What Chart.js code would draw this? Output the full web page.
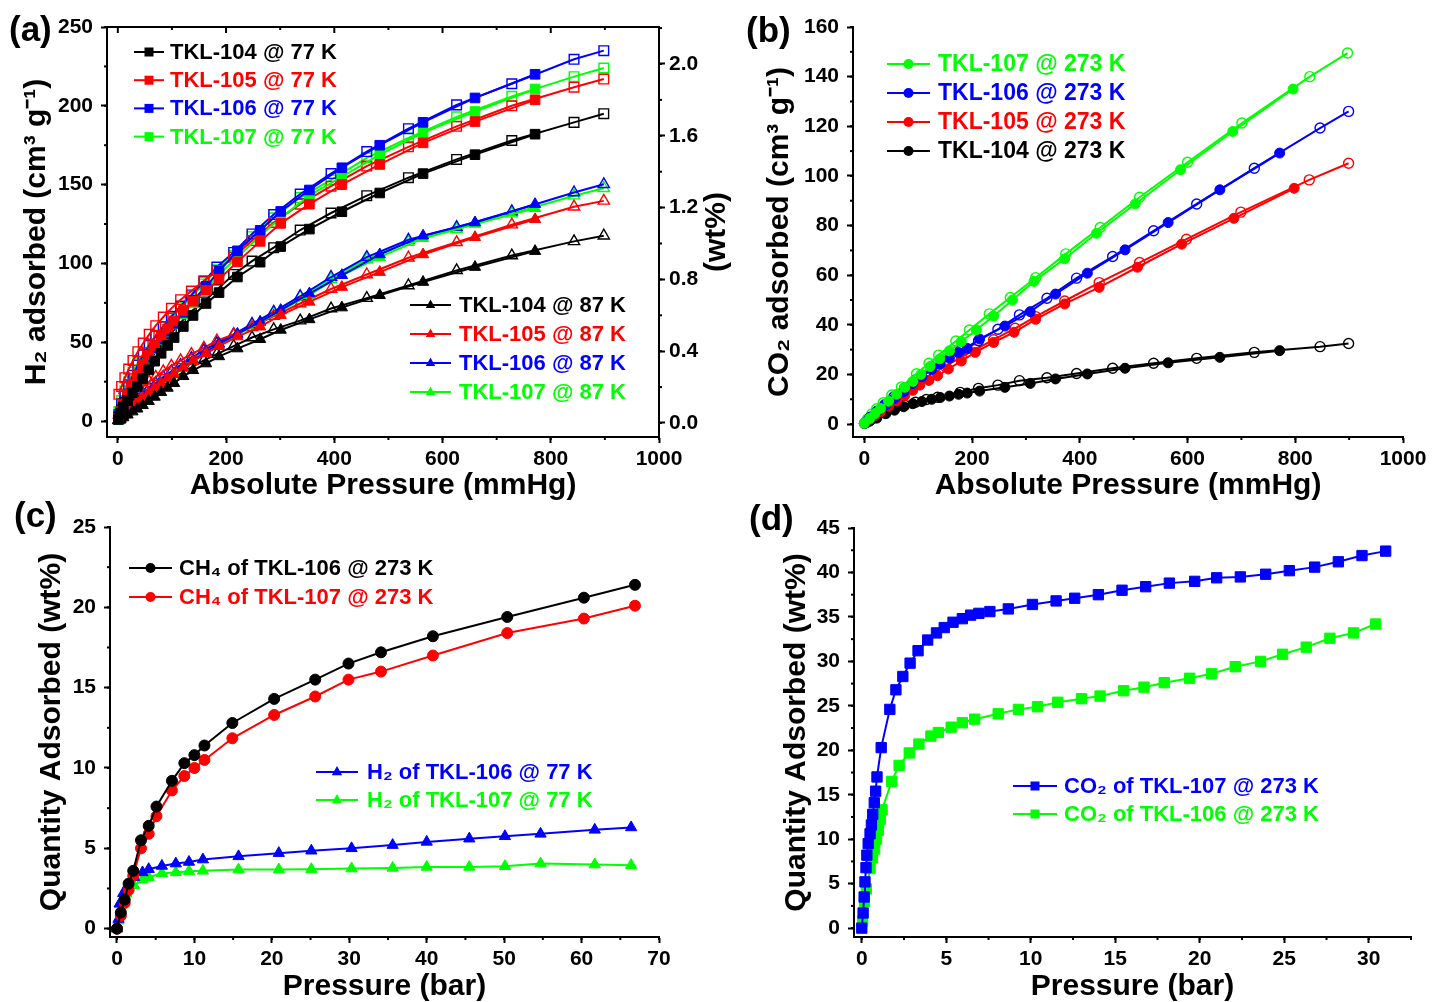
<!DOCTYPE html>
<html>
<head>
<meta charset="utf-8">
<script src="https://cdn.jsdelivr.net/npm/chart.js@4.4.1/dist/chart.umd.min.js"></script>
<style>
  html, body { margin: 0; padding: 0; background: #fff; }
  #wrap { position: relative; width: 1433px; height: 1002px; overflow: hidden; background: #fff; }
  canvas { position: absolute; }
  .lbl { position: absolute; font-family: "Liberation Sans", Arial, sans-serif; font-weight: bold; color: #000; line-height: 1; white-space: nowrap; }
</style>
</head>
<body>
<div id="wrap">
  <canvas id="ca" width="745" height="505" style="left:0;top:0;width:745px;height:505px"></canvas>
  <canvas id="cb" width="688" height="505" style="left:745px;top:0;width:688px;height:505px"></canvas>
  <canvas id="cc" width="745" height="497" style="left:0;top:505px;width:745px;height:497px"></canvas>
  <canvas id="cd" width="688" height="497" style="left:745px;top:505px;width:688px;height:497px"></canvas>
  <div class="lbl" style="left:9px;top:11px;font-size:35px">(a)</div>
  <div class="lbl" style="left:746px;top:12px;font-size:35px">(b)</div>
  <div class="lbl" style="left:14px;top:497px;font-size:35px">(c)</div>
  <div class="lbl" style="left:749px;top:500px;font-size:35px">(d)</div>
  <div class="lbl" style="left:715px;top:232px;font-size:30px;transform:translate(-50%,-50%) rotate(-90deg)">(wt%)</div>
</div>
<script>
// ---------------- Panel (a): H2 isotherms (cm3/g vs mmHg) ----------------
const aPressAds = [1, 5, 10, 18, 27, 36, 46, 57, 68, 80, 92, 104, 121, 139, 163, 187, 221, 263, 301, 354, 414, 484, 564, 660, 771];
const aPressDes = [898, 843, 728, 626, 537, 460, 394, 337, 288, 248, 214, 183, 159, 136, 116, 99, 84, 70, 58, 47, 37, 28, 20, 13, 7, 2];

const tkl104_77_ads = [1, 5, 9, 13, 18, 22, 27, 32.5, 38, 43, 48, 53, 60, 67, 74.6, 81.5, 91.4, 100.8, 110.7, 121.8, 132.8, 144.7, 157, 169, 182];
const tkl104_77_des = [195, 189.5, 178, 166, 154.4, 143, 132, 121.2, 110, 101.5, 93, 83.4, 75.6, 69.7, 62.5, 56, 50, 44, 38, 32.5, 27, 22, 17, 12, 7, 2.5];
const tkl105_77_ads = [1.5, 6, 10.5, 17, 23.5, 29.5, 36, 42, 48, 53.5, 58.5, 63.5, 70, 76, 83, 90, 101, 114, 125.4, 137.6, 150, 162.8, 176.5, 190, 203.8];
const tkl105_77_des = [217, 211.8, 200, 187, 174, 161.8, 149, 137.6, 126, 114.5, 104, 95.5, 89, 82.5, 77, 71.5, 66, 60.5, 55, 49.5, 44, 38.5, 33, 27.5, 22, 17];
const tkl106_77_ads = [1.5, 5.5, 10, 16.5, 23, 29, 35, 41, 46.5, 52, 57, 62, 69, 76.5, 85.5, 95, 108, 121, 133, 146.6, 160.7, 175, 189.5, 205, 220];
const tkl106_77_des = [235, 229.5, 214, 200.6, 185.5, 171, 157, 144, 131, 118.7, 107, 97.7, 88.5, 80, 73, 66.5, 60, 54, 48, 42, 35.5, 29, 23, 17, 11, 4];
const tkl107_77_ads = [1, 5.5, 10, 16.5, 23, 29, 35, 40.5, 46, 51.5, 56.5, 61.5, 68, 75, 84, 93, 104, 117.6, 129, 143, 155, 169, 183, 196.4, 210.7];
const tkl107_77_des = [224, 218.5, 206, 193, 179.6, 167, 153, 141.8, 129, 117, 105, 96, 87, 79, 72, 65.5, 60, 54, 48.5, 43, 37, 31, 25, 19, 13, 6];

const tkl104_87_ads = [0.3, 1.2, 2.3, 4, 6, 7.8, 10, 12.6, 15.3, 18.3, 21, 24, 28.4, 32.2, 36.5, 41, 46, 51.9, 57.8, 64.5, 72, 79.8, 88.2, 97.7, 107.8];
const tkl104_87_des = [117.6, 114, 105, 95.6, 86, 78, 71.4, 63.7, 58.2, 53, 47.5, 42.5, 38.5, 34, 30, 26.5, 23.5, 20, 17, 14.5, 12, 9.5, 7, 5, 3, 1];
const tkl105_87_ads = [0.5, 2, 4, 6.5, 9.5, 12, 15, 18, 21, 24, 27, 30, 34, 38, 43, 47.5, 53.6, 59.9, 67.2, 75.6, 85, 94.5, 105.7, 116.6, 128];
const tkl105_87_des = [139.7, 136, 124.6, 113.4, 103.6, 93, 83.8, 74.6, 66.6, 59.5, 55, 51, 46.5, 42.5, 38.5, 35, 31.5, 28, 25, 22, 19, 16, 13, 10, 7, 4];
const tkl106_87_ads = [0.5, 2, 3.5, 6, 9, 11.5, 14.5, 18, 21, 24, 27, 30, 34, 38.5, 44, 49, 55.3, 63, 70.4, 80.9, 92.5, 105.7, 117.6, 126, 137.6];
const tkl106_87_des = [150.2, 145, 133, 123, 115, 104, 91.4, 79.2, 69.3, 61.6, 55, 49.5, 45, 40, 35.5, 31.5, 28, 24, 21, 17.5, 14, 11, 8.5, 6, 3.5, 1];
const tkl107_87_ads = [0.4, 1.8, 3.3, 5.8, 8.5, 11, 14, 17.5, 20.5, 23.5, 26.5, 29.5, 33.5, 38, 43.5, 48.5, 55, 62.4, 70, 80, 92.5, 104, 116, 125, 135];
const tkl107_87_des = [147.7, 143, 131.6, 121.6, 113.6, 102.5, 90, 78.6, 68.6, 61, 54.5, 49, 44.5, 39.5, 35, 31, 27.5, 23.5, 20.5, 17, 13.5, 10.5, 8, 5.5, 3, 0.8];

const aXTicks = [0, 200, 400, 600, 800, 1000];
const aYTicks = [0, 50, 100, 150, 200, 250];
const aY2Ticks = [0, 0.4, 0.8, 1.2, 1.6, 2.0];

// ---------------- Panel (b): CO2 at 273 K ----------------
const b107AdsP = [0, 10, 20, 30, 45, 60, 75, 90, 105, 122, 140, 158, 180, 208, 240, 275, 315, 372, 431, 503, 587, 684, 796];
const b107Ads  = [0.3, 2.3, 4.3, 6.3, 9.2, 12, 14.8, 17.2, 20, 23.2, 26.3, 29.5, 33.3, 38, 43.5, 50, 57.5, 66.6, 76.9, 88.7, 102.5, 117.9, 135];
const b107DesP = [897, 827, 701, 600, 511, 438, 374, 318, 271, 232, 195, 170, 138, 120, 97, 69, 51, 35, 23, 14, 6];
const b107Des  = [149.5, 140, 121.3, 105.5, 91.4, 79.2, 68.6, 59, 51, 44.4, 37.9, 33.5, 27.8, 24.5, 20.3, 15, 11.7, 8.6, 6.2, 4.1, 2];
const b106AdsP = [0, 10, 23, 40, 56, 73, 90, 107, 125, 141, 158, 175, 191, 214, 261, 308, 355, 414, 484, 564, 660, 771];
const b106Ads  = [0.3, 2.7, 5, 7.7, 10.4, 13, 16.4, 19.1, 22, 24.3, 26.6, 28.8, 30.5, 34.3, 39.5, 45.3, 52.4, 60.8, 70.2, 81.2, 94.4, 109.2];
const b106DesP = [899, 846, 724, 617, 537, 461, 394, 339, 288, 248, 212, 178, 136, 115, 95, 75, 55, 38, 24, 12, 4];
const b106Des  = [126, 119.3, 103.1, 88.7, 77.9, 67.5, 58.8, 50.7, 44, 38.2, 33.6, 29.6, 24.5, 21, 17.8, 14.5, 11, 7.8, 5.2, 2.8, 1];
const b105AdsP = [0, 10, 20, 30, 45, 60, 75, 90, 103, 120, 136, 156, 180, 206, 240, 278, 318, 372, 436, 507, 589, 686, 798];
const b105Ads  = [0.3, 1.9, 3.5, 5, 7.2, 9.3, 11.5, 13.6, 15.7, 17.6, 19.5, 22.2, 25.4, 28.9, 32.9, 37, 42.2, 48.4, 55.1, 63.2, 72.5, 82.9, 95];
const b105DesP = [899, 826, 699, 598, 511, 436, 372, 318, 280, 240, 206, 180, 150, 120, 95, 70, 50, 32, 18, 8];
const b105Des  = [105.1, 98.4, 85.4, 74.5, 65.1, 57, 49.6, 43.3, 38.6, 34, 30, 27, 23.3, 19.5, 16, 12.2, 9, 6, 3.6, 1.7];
const b104AdsP = [0, 10, 23, 40, 56, 73, 90, 107, 125, 141, 158, 175, 191, 214, 261, 308, 355, 414, 484, 564, 660, 771];
const b104Ads  = [0.2, 1.2, 2.4, 4.2, 5.6, 7, 8.2, 9.1, 10, 10.7, 11.3, 12, 12.5, 13.3, 14.8, 16.4, 18.2, 20.2, 22.5, 24.7, 26.9, 29.6];
const b104DesP = [899, 846, 724, 617, 537, 461, 394, 339, 288, 248, 212, 178, 136, 115, 95, 75, 55, 38, 24, 12, 4];
const b104Des  = [32.5, 31.2, 28.9, 26.5, 24.5, 22.5, 20.4, 18.7, 17.5, 15.7, 14.4, 12.8, 10.8, 9.9, 8.8, 7.6, 6.2, 4.6, 3.2, 1.8, 0.7];

const bXTicks = [0, 200, 400, 600, 800, 1000];
const bYTicks = [0, 20, 40, 60, 80, 100, 120, 140, 160];

// ---------------- Panel (c): high-pressure CH4 and H2 (wt%) ----------------
const cCH4P   = [0, 0.5, 1, 1.5, 2.1, 3.1, 4.1, 5.1, 7.1, 8.7, 10, 11.3, 14.9, 20.3, 25.6, 29.9, 34.1, 40.8, 50.4, 60.3, 66.9];
const cCH4_106 = [0, 1.0, 1.8, 2.8, 3.6, 5.5, 6.4, 7.6, 9.2, 10.3, 10.8, 11.4, 12.8, 14.3, 15.5, 16.5, 17.2, 18.2, 19.4, 20.6, 21.4];
const cCH4_107 = [0, 0.8, 1.6, 2.4, 3.3, 5.0, 5.9, 7.0, 8.6, 9.5, 10.0, 10.5, 11.85, 13.3, 14.45, 15.5, 16.0, 17.0, 18.4, 19.3, 20.1];
const cH2P    = [0, 0.2, 0.35, 0.8, 1.2, 2.2, 3.3, 4.1, 5.8, 7.6, 9.3, 11.1, 15.7, 20.9, 25.1, 30.3, 35.6, 40, 45.5, 50.1, 54.7, 61.7, 66.4];
const cH2_106 = [0, 0.6, 1.55, 2.2, 2.5, 3.2, 3.5, 3.7, 3.9, 4.05, 4.15, 4.3, 4.5, 4.7, 4.85, 5.0, 5.2, 5.4, 5.6, 5.75, 5.9, 6.15, 6.3];
const cH2_107 = [0, 0.5, 1.55, 1.9, 2.2, 2.7, 3.05, 3.2, 3.45, 3.5, 3.57, 3.6, 3.68, 3.68, 3.7, 3.74, 3.78, 3.84, 3.84, 3.88, 4.05, 3.99, 3.95];
const cXTicks = [0, 10, 20, 30, 40, 50, 60, 70];
const cYTicks = [0, 5, 10, 15, 20, 25];

// ---------------- Panel (d): high-pressure CO2 (wt%) ----------------
const dCO2_107P = [0, 0.08, 0.14, 0.19, 0.25, 0.3, 0.38, 0.49, 0.57, 0.65, 0.74, 0.82, 0.9, 1.15, 1.66, 2.02, 2.43, 2.86, 3.33, 3.9, 4.42, 4.88, 5.4, 5.95, 6.44, 6.93, 7.58, 8.67, 10.1, 11.5, 12.6, 14, 15.4, 16.8, 18.2, 19.7, 21, 22.4, 23.9, 25.3, 26.8, 28.2, 29.6, 31];
const dCO2_107  = [0, 1.7, 3.5, 5.2, 6.8, 8.2, 9.5, 10.6, 11.6, 12.8, 14.1, 15.4, 17.0, 20.3, 24.6, 26.8, 28.3, 29.8, 31.2, 32.4, 33.2, 33.8, 34.4, 34.8, 35.2, 35.4, 35.6, 35.9, 36.4, 36.8, 37.1, 37.5, 38, 38.4, 38.8, 39.0, 39.4, 39.5, 39.8, 40.2, 40.6, 41.2, 41.9, 42.4];
const dCO2_106P = [0.05, 0.16, 0.27, 0.49, 0.63, 0.76, 0.87, 0.98, 1.09, 1.2, 1.77, 2.21, 2.81, 3.38, 4.09, 4.53, 5.29, 5.95, 6.68, 8.07, 9.27, 10.4, 11.6, 13, 14.1, 15.5, 16.7, 17.9, 19.4, 20.7, 22.1, 23.6, 24.9, 26.3, 27.7, 29.1, 30.4];
const dCO2_106  = [0.8, 3.0, 4.4, 6.7, 7.9, 8.9, 10, 11, 12.2, 13.3, 16.5, 18.3, 19.7, 20.7, 21.6, 22, 22.6, 23.1, 23.5, 24.1, 24.6, 24.9, 25.4, 25.8, 26.1, 26.7, 27.1, 27.6, 28.1, 28.6, 29.4, 30.0, 30.8, 31.6, 32.6, 33.2, 34.2];
const dXTicks = [0, 5, 10, 15, 20, 25, 30];
const dYTicks = [0, 5, 10, 15, 20, 25, 30, 35, 40, 45];

// ---------------- helpers ----------------
const FONT = '"Liberation Sans", Arial, sans-serif';
Chart.defaults.font.family = FONT;
Chart.defaults.color = '#000';

const BLACK = '#000000', RED = '#ff0000', BLUE = '#0000ff', GREEN = '#00ff00';

function ser(label, xs, ys, color, style, filled, r) {
  return {
    label: label,
    data: xs.map((x, i) => ({ x: x, y: ys[i] })),
    borderColor: color,
    backgroundColor: color,
    borderWidth: 2,
    showLine: true,
    tension: 0,
    pointStyle: style,
    pointRadius: r,
    pointHoverRadius: r,
    pointBorderColor: color,
    pointBorderWidth: filled ? 1 : 1.4,
    pointBackgroundColor: filled ? color : 'rgba(255,255,255,0)'
  };
}

function fixTicks(list) { return s => { s.ticks = list.map(v => ({ value: v })); }; }

function xScale(min, max, list, h, title, titlePad, fmt) {
  return {
    type: 'linear', position: 'bottom', min: min, max: max,
    afterBuildTicks: fixTicks(list),
    afterFit: s => { s.height = h; },
    ticks: { autoSkip: false, maxRotation: 0, padding: 4, color: '#000',
             font: { size: 21, weight: 'bold' }, callback: fmt || (v => String(v)) },
    grid: { display: true, drawOnChartArea: false, drawTicks: true, tickLength: 6, tickWidth: 2, tickColor: '#000' },
    border: { display: true, color: '#000', width: 2 },
    title: { display: true, text: title, color: '#000',
             font: { size: 30, weight: 'bold', lineHeight: 1 }, padding: { top: 0, bottom: titlePad } }
  };
}

function yScale(min, max, list, w, title, titlePad, align, position, fmt) {
  const o = {
    type: 'linear', position: position || 'left', min: min, max: max,
    afterBuildTicks: fixTicks(list),
    afterFit: s => { s.width = w; },
    ticks: { autoSkip: false, padding: position === 'right' ? 4 : 8, color: '#000',
             font: { size: 21, weight: 'bold' }, callback: fmt || (v => String(v)) },
    grid: { display: true, drawOnChartArea: false, drawTicks: true, tickLength: 6, tickWidth: 2, tickColor: '#000' },
    border: { display: true, color: '#000', width: 2 }
  };
  if (title) {
    o.title = { display: true, text: title, color: '#000', align: align || 'center',
                font: { size: 30, weight: 'bold', lineHeight: 1 }, padding: { top: titlePad, bottom: 0 } };
  }
  return o;
}

// minor ticks + optional closed top frame
const axisDeco = {
  id: 'axisDeco',
  afterDraw(chart, args, opts) {
    const ctx = chart.ctx, ca = chart.chartArea;
    ctx.save();
    ctx.strokeStyle = '#000';
    ctx.lineWidth = 2;
    (opts.minor || []).forEach(m => {
      const s = chart.scales[m.id];
      const k0 = Math.ceil(s.min / m.step - 1e-9), k1 = Math.floor(s.max / m.step + 1e-9);
      for (let k = k0; k <= k1; k++) {
        const p = s.getPixelForValue(k * m.step);
        ctx.beginPath();
        if (s.position === 'bottom') { ctx.moveTo(p, s.top); ctx.lineTo(p, s.top + m.len); }
        else if (s.position === 'left') { ctx.moveTo(s.right, p); ctx.lineTo(s.right - m.len, p); }
        else { ctx.moveTo(s.left, p); ctx.lineTo(s.left + m.len, p); }
        ctx.stroke();
      }
    });
    if (opts.topFrame) {
      const s = chart.scales.x;
      ctx.beginPath(); ctx.moveTo(ca.left - 1, ca.top); ctx.lineTo(ca.right + 1, ca.top); ctx.stroke();
      const f = opts.topFrame;
      const k0 = Math.ceil(s.min / f.minorStep - 1e-9), k1 = Math.floor(s.max / f.minorStep + 1e-9);
      for (let k = k0; k <= k1; k++) {
        const v = k * f.minorStep;
        const major = Math.abs(v / f.majorStep - Math.round(v / f.majorStep)) < 1e-6;
        const p = s.getPixelForValue(v);
        ctx.beginPath(); ctx.moveTo(p, ca.top); ctx.lineTo(p, ca.top + (major ? 6 : 3)); ctx.stroke();
      }
    }
    ctx.restore();
  }
};

// legends drawn inside the plot area
const insideLegend = {
  id: 'insideLegend',
  afterDatasetsDraw(chart, args, opts) {
    const ctx = chart.ctx;
    (opts.groups || []).forEach(g => {
      g.items.forEach((di, k) => {
        const ds = chart.data.datasets[di];
        const y = g.y + k * g.rowH;
        const c = ds.borderColor;
        ctx.save();
        ctx.strokeStyle = c; ctx.fillStyle = c; ctx.lineWidth = 2;
        ctx.beginPath(); ctx.moveTo(g.x, y); ctx.lineTo(g.x + g.lineLen, y); ctx.stroke();
        const mx = g.x + g.lineLen / 2, r = g.r;
        ctx.beginPath();
        if (ds.pointStyle === 'rect') ctx.rect(mx - r, y - r, 2 * r, 2 * r);
        else if (ds.pointStyle === 'triangle') {
          ctx.moveTo(mx, y - r * 1.1); ctx.lineTo(mx + r * 0.95, y + r * 0.6); ctx.lineTo(mx - r * 0.95, y + r * 0.6); ctx.closePath();
        } else ctx.arc(mx, y, r, 0, Math.PI * 2);
        ctx.fill();
        ctx.font = g.font; ctx.textBaseline = 'middle'; ctx.textAlign = 'left';
        ctx.fillText(ds.label, g.textX, y + 1);
        ctx.restore();
      });
    });
  }
};

const baseOpts = { responsive: false, animation: false, events: [], devicePixelRatio: 1 };

// ---------------- Chart (a) ----------------
const RA = 6.8, RT = 6.5;
const dsA = [
  ser('TKL-104 @ 77 K', aPressAds, tkl104_77_ads, BLACK, 'rect', true, RA),
  ser('TKL-105 @ 77 K', aPressAds, tkl105_77_ads, RED, 'rect', true, RA),
  ser('TKL-106 @ 77 K', aPressAds, tkl106_77_ads, BLUE, 'rect', true, RA),
  ser('TKL-107 @ 77 K', aPressAds, tkl107_77_ads, GREEN, 'rect', true, RA),
  ser('TKL-104 @ 87 K', aPressAds, tkl104_87_ads, BLACK, 'triangle', true, RT),
  ser('TKL-105 @ 87 K', aPressAds, tkl105_87_ads, RED, 'triangle', true, RT),
  ser('TKL-106 @ 87 K', aPressAds, tkl106_87_ads, BLUE, 'triangle', true, RT),
  ser('TKL-107 @ 87 K', aPressAds, tkl107_87_ads, GREEN, 'triangle', true, RT),
  ser('TKL-104 @ 77 K (des)', aPressDes, tkl104_77_des, BLACK, 'rect', false, RA),
  ser('TKL-105 @ 77 K (des)', aPressDes, tkl105_77_des, RED, 'rect', false, RA),
  ser('TKL-106 @ 77 K (des)', aPressDes, tkl106_77_des, BLUE, 'rect', false, RA),
  ser('TKL-107 @ 77 K (des)', aPressDes, tkl107_77_des, GREEN, 'rect', false, RA),
  ser('TKL-104 @ 87 K (des)', aPressDes, tkl104_87_des, BLACK, 'triangle', false, RT),
  ser('TKL-105 @ 87 K (des)', aPressDes, tkl105_87_des, RED, 'triangle', false, RT),
  ser('TKL-106 @ 87 K (des)', aPressDes, tkl106_87_des, BLUE, 'triangle', false, RT),
  ser('TKL-107 @ 87 K (des)', aPressDes, tkl107_87_des, GREEN, 'triangle', false, RT)
];
new Chart(document.getElementById('ca'), {
  type: 'scatter',
  data: { datasets: dsA },
  plugins: [axisDeco, insideLegend],
  options: Object.assign({}, baseOpts, {
    layout: { padding: { top: 27, left: 0, right: 0, bottom: 0 } },
    scales: {
      x: xScale(-20, 1000, aXTicks, 68, 'Absolute Pressure (mmHg)', 4),
      y: yScale(-10.1, 250, aYTicks, 107, 'H\u2082 adsorbed (cm\u00B3 g\u207B\u00B9)', 22, 'center'),
      y2: Object.assign(yScale(-0.078, 2.206, aY2Ticks, 86, null, 0, 'center', 'right', v => v.toFixed(1)), { display: true })
    },
    plugins: {
      legend: { display: false }, tooltip: { enabled: false },
      axisDeco: { minor: [{ id: 'x', step: 100, len: 3 }, { id: 'y', step: 25, len: 3 }, { id: 'y2', step: 0.2, len: 3 }],
                  topFrame: { majorStep: 200, minorStep: 100 } },
      insideLegend: { groups: [
        { x: 134, lineLen: 30, textX: 170, y: 52, rowH: 28.2, r: 4.5, font: 'bold 22px ' + FONT, items: [0, 1, 2, 3] },
        { x: 410, lineLen: 41, textX: 459, y: 305, rowH: 29, r: 5, font: 'bold 22px ' + FONT, items: [4, 5, 6, 7] }
      ] }
    }
  })
});

// ---------------- Chart (b) ----------------
const RB = 5;
const dsB = [
  ser('TKL-107 @ 273 K', b107AdsP, b107Ads, GREEN, 'circle', true, RB),
  ser('TKL-106 @ 273 K', b106AdsP, b106Ads, BLUE, 'circle', true, RB),
  ser('TKL-105 @ 273 K', b105AdsP, b105Ads, RED, 'circle', true, RB),
  ser('TKL-104 @ 273 K', b104AdsP, b104Ads, BLACK, 'circle', true, RB),
  ser('TKL-107 @ 273 K (des)', b107DesP, b107Des, GREEN, 'circle', false, RB),
  ser('TKL-106 @ 273 K (des)', b106DesP, b106Des, BLUE, 'circle', false, RB),
  ser('TKL-105 @ 273 K (des)', b105DesP, b105Des, RED, 'circle', false, RB),
  ser('TKL-104 @ 273 K (des)', b104DesP, b104Des, BLACK, 'circle', false, RB)
];
new Chart(document.getElementById('cb'), {
  type: 'scatter',
  data: { datasets: dsB },
  plugins: [axisDeco, insideLegend],
  options: Object.assign({}, baseOpts, {
    layout: { padding: { top: 27, left: 0, right: 30, bottom: 0 } },
    scales: {
      x: xScale(-21, 1000, bXTicks, 68, 'Absolute Pressure (mmHg)', 4),
      y: yScale(-5.2, 160, bYTicks, 108, 'CO\u2082 adsorbed (cm\u00B3 g\u207B\u00B9)', 20, 'center')
    },
    plugins: {
      legend: { display: false }, tooltip: { enabled: false },
      axisDeco: { minor: [{ id: 'x', step: 100, len: 3 }, { id: 'y', step: 10, len: 3 }] },
      insideLegend: { groups: [
        { x: 142, lineLen: 43, textX: 193, y: 64, rowH: 29, r: 5, font: 'bold 23px ' + FONT, items: [0, 1, 2, 3] }
      ] }
    }
  })
});

// ---------------- Chart (c) ----------------
const dsC = [
  ser('CH\u2084 of TKL-106 @ 273 K', cCH4P, cCH4_106, BLACK, 'circle', true, 5.5),
  ser('CH\u2084 of TKL-107 @ 273 K', cCH4P, cCH4_107, RED, 'circle', true, 5.5),
  ser('H\u2082 of TKL-106 @ 77 K', cH2P, cH2_106, BLUE, 'triangle', true, 6.5),
  ser('H\u2082 of TKL-107 @ 77 K', cH2P, cH2_107, GREEN, 'triangle', true, 6.5)
];
new Chart(document.getElementById('cc'), {
  type: 'scatter',
  data: { datasets: dsC },
  plugins: [axisDeco, insideLegend],
  options: Object.assign({}, baseOpts, {
    layout: { padding: { top: 22, left: 0, right: 86, bottom: 0 } },
    scales: {
      x: xScale(-0.9, 70, cXTicks, 65, 'Pressure (bar)', 0),
      y: yScale(-0.52, 25, cYTicks, 110, 'Quantity Adsorbed (wt%)', 37, 'center')
    },
    plugins: {
      legend: { display: false }, tooltip: { enabled: false },
      axisDeco: { minor: [{ id: 'x', step: 5, len: 3 }, { id: 'y', step: 2.5, len: 3 }] },
      insideLegend: { groups: [
        { x: 129, lineLen: 43, textX: 179, y: 63, rowH: 29, r: 5, font: 'bold 22px ' + FONT, items: [0, 1] },
        { x: 316, lineLen: 42, textX: 367, y: 267, rowH: 28, r: 5.5, font: 'bold 22px ' + FONT, items: [2, 3] }
      ] }
    }
  })
});

// ---------------- Chart (d) ----------------
const dsD = [
  ser('CO\u2082 of TKL-107 @ 273 K', dCO2_107P, dCO2_107, BLUE, 'rect', true, 7.3),
  ser('CO\u2082 of TKL-106 @ 273 K', dCO2_106P, dCO2_106, GREEN, 'rect', true, 7.3)
];
new Chart(document.getElementById('cd'), {
  type: 'scatter',
  data: { datasets: dsD },
  plugins: [axisDeco, insideLegend],
  options: Object.assign({}, baseOpts, {
    layout: { padding: { top: 23, left: 0, right: 22, bottom: 0 } },
    scales: {
      x: xScale(-0.46, 32.5, dXTicks, 65, 'Pressure (bar)', 0),
      y: yScale(-1, 45, dYTicks, 109, 'Quantity Adsorbed (wt%)', 37, 'center')
    },
    plugins: {
      legend: { display: false }, tooltip: { enabled: false },
      axisDeco: { minor: [{ id: 'x', step: 2.5, len: 3 }, { id: 'y', step: 2.5, len: 3 }] },
      insideLegend: { groups: [
        { x: 268, lineLen: 44, textX: 319, y: 281, rowH: 28, r: 4.5, font: 'bold 22px ' + FONT, items: [0, 1] }
      ] }
    }
  })
});
</script>
</body>
</html>
